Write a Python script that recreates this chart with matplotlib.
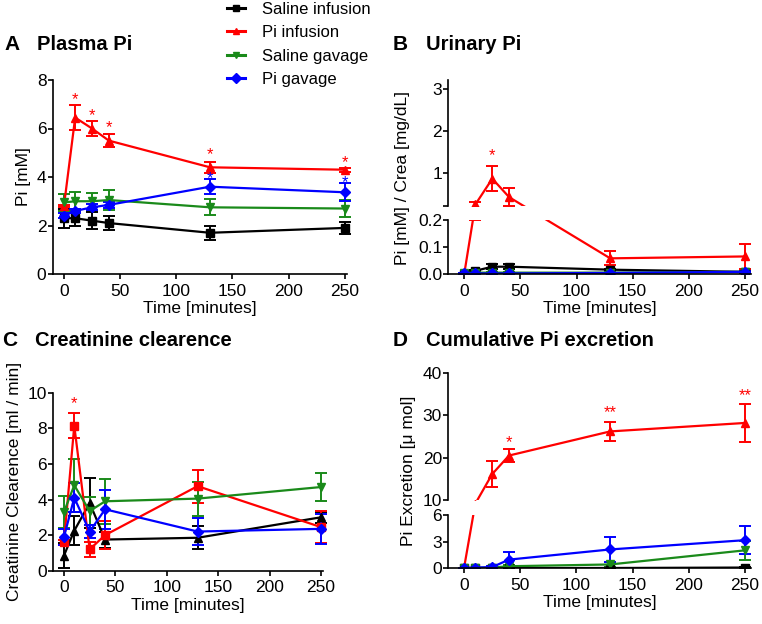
import numpy as np
import matplotlib
matplotlib.use("Agg")
import matplotlib.pyplot as plt
from matplotlib.lines import Line2D

plt.rcParams['font.family'] = ['Liberation Sans', 'DejaVu Sans']

# sampling times (minutes)
time = [0, 10, 25, 40, 130, 250]

# A - plasma Pi [mM]
a_saline_inf = [2.3, 2.3, 2.2, 2.1, 1.7, 1.9]
a_saline_inf_err = [0.4, 0.3, 0.35, 0.3, 0.3, 0.25]
a_pi_inf = [2.8, 6.45, 6.0, 5.5, 4.4, 4.3]
a_pi_inf_err = [0.05, 0.5, 0.3, 0.28, 0.22, 0.08]
a_saline_gav = [2.95, 3.0, 3.0, 3.05, 2.75, 2.7]
a_saline_gav_err = [0.35, 0.4, 0.35, 0.4, 0.33, 0.35]
a_pi_gav = [2.4, 2.6, 2.75, 2.85, 3.6, 3.37]
a_pi_gav_err = [0.1, 0.1, 0.12, 0.12, 0.3, 0.37]
a_stars_red = [(10, 7.38), (25, 6.73), (40, 6.21), (130, 5.11), (250, 4.8)]
a_stars_blue = [(130, 4.1), (250, 3.96)]

# B - urinary Pi / creatinine
b_saline_inf = [0.0, 0.012, 0.027, 0.027, 0.016, 0.008]
b_saline_inf_err = [0.0, 0.004, 0.01, 0.01, 0.004, 0.003]
b_pi_inf = [0.0, 0.25, 0.86, 0.42, 0.058, 0.065]
b_pi_inf_err = [0.0, 0.05, 0.3, 0.21, 0.026, 0.045]
b_saline_gav = [0.004, 0.005, 0.005, 0.005, 0.005, 0.008]
b_saline_gav_err = [0.001, 0.001, 0.001, 0.001, 0.001, 0.002]
b_pi_gav = [0.002, 0.002, 0.002, 0.002, 0.004, 0.008]
b_pi_gav_err = [0.001, 0.001, 0.001, 0.001, 0.001, 0.002]
b_stars_red = [(25, 1.52)]

# C - creatinine clearance [ml/min]
c_saline_inf = [0.85, 2.25, 3.8, 1.75, 1.85, 3.0]
c_saline_inf_err = [0.7, 0.8, 1.4, 0.45, 0.65, 0.3]
c_pi_inf = [1.6, 8.15, 1.2, 2.0, 4.75, 2.45]
c_pi_inf_err = [0.15, 0.7, 0.42, 0.8, 0.92, 0.9]
c_saline_gav = [3.3, 4.8, 3.35, 3.9, 4.05, 4.7]
c_saline_gav_err = [0.9, 1.5, 0.8, 1.25, 0.95, 0.8]
c_pi_gav = [1.9, 4.1, 2.2, 3.45, 2.2, 2.35]
c_pi_gav_err = [0.45, 0.8, 0.35, 1.1, 0.78, 0.85]
c_stars_red = [(10, 9.63)]

# D - cumulative Pi excretion [umol]
d_saline_inf = [0.0, 0.0, 0.0, 0.0, 0.0, 0.05]
d_saline_inf_err = [0.0, 0.0, 0.0, 0.0, 0.0, 0.1]
d_pi_inf = [0.0, 9.0, 16.1, 20.5, 26.2, 28.2]
d_pi_inf_err = [0.0, 0.0, 3.1, 1.5, 2.2, 4.45]
d_saline_gav = [0.0, 0.0, 0.05, 0.2, 0.4, 2.0]
d_saline_gav_err = [0.0, 0.0, 0.0, 0.1, 0.3, 1.1]
d_pi_gav = [0.0, 0.05, 0.1, 0.95, 2.1, 3.15]
d_pi_gav_err = [0.0, 0.0, 0.1, 0.85, 1.4, 1.55]
d_stars_red = [(40, '*', 24.6), (130, '**', 31.7), (250, '**', 35.8)]

labels = ['Saline infusion', 'Pi infusion', 'Saline gavage', 'Pi gavage']
colors = ['#000000', '#ff0000', '#1a8a1a', '#0000ff']
markers = ['s', '^', 'v', 'D']

W, H = 762, 624
FS = 12.5


def rect(x0, y0, x1, y1):
    # pixel box -> figure fraction
    return [x0 / W, 1 - y1 / H, (x1 - x0) / W, (y1 - y0) / H]


def broken_scale(lo_top, hi_bot, lo_px, gap_px, hi_per):
    # piecewise linear y mapping (in pixels) so that lines cross the axis break
    # the way a continuous drawing would
    lo_per = lo_px / lo_top
    gap_per = gap_px / (hi_bot - lo_top)

    def fwd(y):
        y = np.asarray(y, dtype=float)
        return np.where(y <= lo_top, y * lo_per,
                        np.where(y <= hi_bot, lo_px + (y - lo_top) * gap_per,
                                 lo_px + gap_px + (y - hi_bot) * hi_per))

    def inv(p):
        p = np.asarray(p, dtype=float)
        return np.where(p <= lo_px, p / lo_per,
                        np.where(p <= lo_px + gap_px, lo_top + (p - lo_px) / gap_per,
                                 hi_bot + (p - lo_px - gap_px) / hi_per))
    return fwd, inv


def style(ax, bottom=True):
    for s in ['top', 'right']:
        ax.spines[s].set_visible(False)
    ax.spines['left'].set_linewidth(1.2)
    ax.spines['bottom'].set_linewidth(1.2)
    if not bottom:
        ax.spines['bottom'].set_visible(False)
        ax.tick_params(axis='x', bottom=False, labelbottom=False)
    ax.tick_params(direction='out', length=3.5, width=1.2, labelsize=FS)
    ax.tick_params(axis='x', pad=3.5)
    ax.tick_params(axis='y', pad=1)


def draw(ax, series, errs, mk, clip=True):
    for y, e, c, m in zip(series, errs, colors, mk):
        ax.errorbar(time, y, yerr=e, color=c, marker=m, markersize=6 if m != 'D' else 5,
                    lw=1.6, elinewidth=1.4, capsize=4, capthick=1.4, clip_on=clip)


def stars(ax, pts, color, text='*'):
    for x, y in pts:
        ax.annotate(text, (x, y), xytext=(0, -6.5), textcoords='offset points',
                    ha='center', va='baseline', color=color, fontsize=12,
                    annotation_clip=False)


def main():
    fig = plt.figure(figsize=(W / 100, H / 100), dpi=100)

    # ---- A
    ax = fig.add_axes(rect(52.7, 80, 347, 274))
    draw(ax, [a_saline_inf, a_pi_inf, a_saline_gav, a_pi_gav],
         [a_saline_inf_err, a_pi_inf_err, a_saline_gav_err, a_pi_gav_err], markers, clip=False)
    stars(ax, a_stars_red, colors[1])
    stars(ax, a_stars_blue, colors[3])
    ax.set_xlim(-10, 252)
    ax.set_ylim(0, 8)
    ax.set_xticks([0, 50, 100, 150, 200, 250])
    ax.set_yticks([0, 2, 4, 6, 8])
    ax.set_xlabel('Time [minutes]', fontsize=FS, labelpad=2)
    ax.set_ylabel('Pi [mM]', fontsize=FS, labelpad=4)
    style(ax)

    # ---- B (broken axis: 0-0.2 below, 0.21-3.2 above)
    fwd, inv = broken_scale(0.2, 0.21, 54, 14, 42)
    bu = fig.add_axes(rect(448.5, 80.4, 750.6, 206))
    bl = fig.add_axes(rect(448.5, 220, 750.6, 274))
    for a in (bu, bl):
        a.set_yscale('function', functions=(fwd, inv))
        draw(a, [b_saline_inf, b_pi_inf, b_saline_gav, b_pi_gav],
             [b_saline_inf_err, b_pi_inf_err, b_saline_gav_err, b_pi_gav_err], markers)
        a.set_xlim(-14, 255)
    bu.set_ylim(0.21, 3.2)
    bu.set_yticks([0.21, 1, 2, 3])
    bu.set_yticklabels(['', '1', '2', '3'])
    bu.yaxis.set_minor_locator(plt.NullLocator())
    bu.patch.set_visible(False)
    style(bu, bottom=False)
    stars(bu, b_stars_red, colors[1])
    bl.set_ylim(0, 0.2)
    bl.set_yticks([0, 0.1, 0.2])
    bl.set_yticklabels(['0.0', '0.1', '0.2'])
    bl.yaxis.set_minor_locator(plt.NullLocator())
    bl.set_xticks([0, 50, 100, 150, 200, 250])
    bl.set_xlabel('Time [minutes]', fontsize=FS, labelpad=2)
    style(bl)
    fig.text(403 / W, 1 - 178 / H, 'Pi [mM] / Crea [mg/dL]', rotation=90,
             ha='center', va='center', fontsize=FS)

    # ---- C
    ax = fig.add_axes(rect(53.3, 392.7, 323, 570.7))
    draw(ax, [c_saline_inf, c_pi_inf, c_saline_gav, c_pi_gav],
         [c_saline_inf_err, c_pi_inf_err, c_saline_gav_err, c_pi_gav_err],
         ['^', 's', 'v', 'D'], clip=False)
    stars(ax, c_stars_red, colors[1])
    ax.set_xlim(-10.4, 252)
    ax.set_ylim(0, 10)
    ax.set_xticks([0, 50, 100, 150, 200, 250])
    ax.set_yticks([0, 2, 4, 6, 8, 10])
    ax.set_xlabel('Time [minutes]', fontsize=FS, labelpad=2)
    ax.set_ylabel('Creatinine Clearence [ml / min]', fontsize=FS, labelpad=4)
    style(ax)

    # ---- D (broken axis: 0-6 below, 10-40 above)
    fwd, inv = broken_scale(6, 10, 53, 15, 4.233)
    du = fig.add_axes(rect(448.3, 373, 750.6, 500))
    dl = fig.add_axes(rect(448.3, 515, 750.6, 568))
    for a in (du, dl):
        a.set_yscale('function', functions=(fwd, inv))
        draw(a, [d_saline_inf, d_pi_inf, d_saline_gav, d_pi_gav],
             [d_saline_inf_err, d_pi_inf_err, d_saline_gav_err, d_pi_gav_err], markers)
        a.set_xlim(-14, 255)
    du.set_ylim(10, 40)
    du.set_yticks([10, 20, 30, 40])
    du.set_yticklabels(['10', '20', '30', '40'])
    du.yaxis.set_minor_locator(plt.NullLocator())
    du.patch.set_visible(False)
    style(du, bottom=False)
    for x, s, y in d_stars_red:
        stars(du, [(x, y)], colors[1], s)
    dl.set_ylim(0, 6)
    dl.set_yticks([0, 3, 6])
    dl.set_yticklabels(['0', '3', '6'])
    dl.yaxis.set_minor_locator(plt.NullLocator())
    dl.set_xticks([0, 50, 100, 150, 200, 250])
    dl.set_xlabel('Time [minutes]', fontsize=FS, labelpad=2)
    style(dl)
    fig.text(409 / W, 1 - 471 / H, 'Pi Excretion [\u03bc mol]', rotation=90,
             ha='center', va='center', fontsize=FS)

    # ---- panel titles
    for x, y, letter, title in [(4, 45, 'A', 'Plasma Pi'), (393, 45, 'B', 'Urinary Pi'),
                                (2, 341, 'C', 'Creatinine clearence'),
                                (393, 341, 'D', 'Cumulative Pi excretion')]:
        fig.text(x / W, 1 - y / H, letter, fontsize=15, fontweight='bold', va='center')
        fig.text((x + 33) / W, 1 - y / H, title, fontsize=14.5, fontweight='bold', va='center')

    # ---- legend
    handles = [Line2D([], [], color=c, marker=m, markersize=5, lw=2.2)
               for c, m in zip(colors, markers)]
    fig.legend(handles, labels, loc='upper left', bbox_to_anchor=(225 / W, 1.0),
               frameon=False, fontsize=12, handlelength=1.1, handletextpad=1.0,
               labelspacing=0.51, borderpad=0.1, borderaxespad=0)

    fig.savefig('out.png', dpi=100)


if __name__ == "__main__":
    main()
